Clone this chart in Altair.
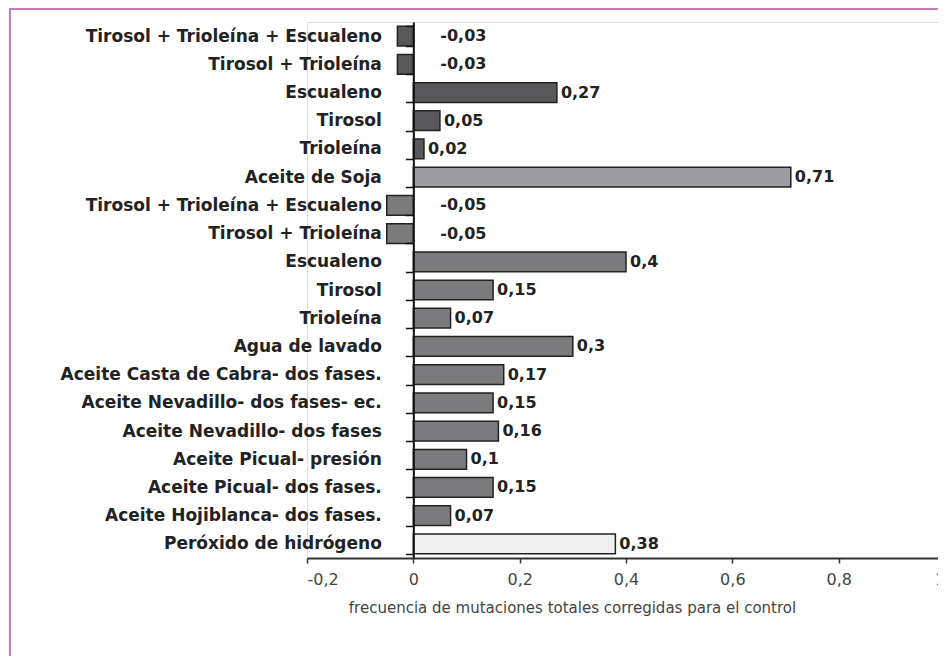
import altair as alt
import pandas as pd

categorias = [
    "Tirosol + Trioleína + Escualeno",
    "Tirosol + Trioleína",
    "Escualeno",
    "Tirosol",
    "Trioleína",
    "Aceite de Soja",
    "Tirosol + Trioleína + Escualeno",
    "Tirosol + Trioleína",
    "Escualeno",
    "Tirosol",
    "Trioleína",
    "Agua de lavado",
    "Aceite Casta de Cabra- dos fases.",
    "Aceite Nevadillo- dos fases- ec.",
    "Aceite Nevadillo- dos fases",
    "Aceite Picual- presión",
    "Aceite Picual- dos fases.",
    "Aceite Hojiblanca- dos fases.",
    "Peróxido de hidrógeno",
]
valores = [-0.03, -0.03, 0.27, 0.05, 0.02, 0.71, -0.05, -0.05, 0.4, 0.15, 0.07,
           0.3, 0.17, 0.15, 0.16, 0.1, 0.15, 0.07, 0.38]
grupos = ["A", "A", "A", "A", "A", "B", "C", "C", "C", "C", "C",
          "C", "C", "C", "C", "C", "C", "C", "D"]
grupo_nombres = ["A", "B", "C", "D"]
grupo_colores = ["#58585a", "#9c9c9e", "#7b7b7d", "#efefef"]
ticks_x = [-0.2, 0, 0.2, 0.4, 0.6, 0.8, 1]

df = pd.DataFrame({
    "clave": [f"{i:02d}|{c}" for i, c in enumerate(categorias)],
    "valor": valores,
    "grupo": grupos,
})

W, H = 631, 536
RANGO_X = 638
PAD = {"left": 299, "top": 14, "right": 0, "bottom": 98}
FONT = "DejaVu Sans"
OFFSET_Y = -RANGO_X * 0.2 / 1.2

base = alt.Chart(df)

y_enc = alt.Y(
    "clave:N",
    sort="ascending",
    scale=alt.Scale(paddingInner=0.3, paddingOuter=0.15),
    axis=alt.Axis(
        title=None,
        orient="left",
        offset=OFFSET_Y,
        zindex=1,
        domain=True, domainColor="#111111", domainWidth=2,
        ticks=True, tickBand="extent", tickSize=8, tickColor="#111111", tickWidth=1.5,
        labelExpr="split(datum.value, '|')[1]",
        labelPadding=24, labelLimit=500,
        labelFont=FONT, labelFontWeight="bold", labelFontSize=17, labelColor="#222222",
    ),
)

x_enc = alt.X(
    "valor:Q",
    scale=alt.Scale(domain=[-0.2, 1], nice=False, range=[0, RANGO_X]),
    axis=alt.Axis(
        values=ticks_x,
        zindex=1,
        labelExpr="replace(toString(datum.value), '.', ',')",
        grid=False,
        domainColor="#333333", domainWidth=2,
        tickSize=5, tickColor="#333333", tickWidth=1.5,
        labelFont=FONT, labelFontSize=16, labelColor="#444444", labelPadding=8,
        title="frecuencia de mutaciones totales corregidas para el control",
        titleFont=FONT, titleFontSize=15, titleFontWeight="normal", titleColor="#444444",
        titleX=265, titleY=49, titleBaseline="middle", titleAlign="center",
    ),
)

borde = alt.Chart(alt.Data(values=[{}])).mark_rect(
    fillOpacity=0, stroke="#c47fba", strokeWidth=2
).encode(
    x=alt.value(-297), x2=alt.value(W + 100),
    y=alt.value(-13), y2=alt.value(H + 300),
)

barras = base.mark_bar(stroke="#222222", strokeWidth=1.5).encode(
    x=x_enc,
    y=y_enc,
    color=alt.Color("grupo:N", scale=alt.Scale(domain=grupo_nombres, range=grupo_colores), legend=None),
)

texto_pos = base.transform_filter("datum.valor >= 0").transform_calculate(
    etiqueta="replace(toString(datum.valor), '.', ',')"
).mark_text(
    align="left", baseline="middle", dx=4, font=FONT, fontWeight="bold", fontSize=16, color="#222222"
).encode(x="valor:Q", y=alt.Y("clave:N", sort="ascending"), text="etiqueta:N")

texto_neg = base.transform_filter("datum.valor < 0").transform_calculate(
    etiqueta="replace(toString(datum.valor), '.', ',')",
    cero="0",
).mark_text(
    align="left", baseline="middle", dx=27, font=FONT, fontWeight="bold", fontSize=16, color="#222222"
).encode(x="cero:Q", y=alt.Y("clave:N", sort="ascending"), text="etiqueta:N")

chart = alt.layer(borde, barras, texto_pos, texto_neg).properties(
    width=W, height=H, padding=PAD,
    autosize=alt.AutoSizeParams(type="none"),
).configure_view(stroke=None).configure(background="white")

chart.save("out.html", embed_options={"renderer": "svg", "actions": False})
